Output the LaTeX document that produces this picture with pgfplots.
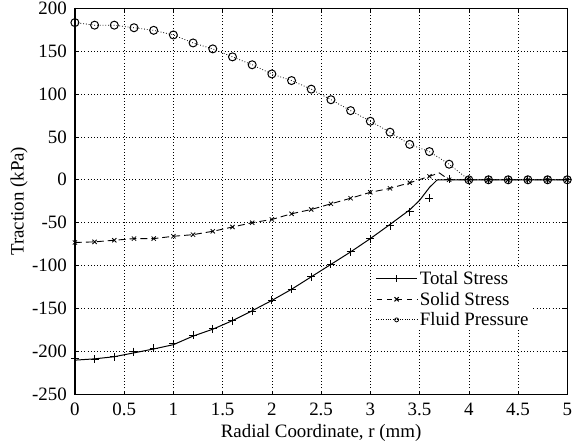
\documentclass[border=0pt]{standalone}
\usepackage{fontspec}
\setmainfont{Liberation Serif}
\usepackage{pgfplots}
\pgfplotsset{compat=1.18}
\begin{document}
\begin{tikzpicture}
\begin{axis}[
  scale only axis, width=493bp, height=387bp,
  xmin=0, xmax=5, ymin=-250, ymax=200,
  xtick={0,0.5,...,5}, xticklabels={0,0.5,1,1.5,2,2.5,3,3.5,4,4.5,5},
  ytick={-250,-200,...,200}, yticklabels={-250,-200,-150,-100,-50,0,50,100,150,200},
  grid=major, grid style={black, dash pattern=on 0.8pt off 2.4pt, line width=0.6pt},
  tick style={black, line width=0.6pt}, major tick length=4bp, tick align=inside,
  axis line style={line width=0.8pt},
  ticklabel style={font=\fontsize{19}{20}\selectfont, inner sep=0pt},
  xticklabel style={anchor=base, yshift=-21bp},
  yticklabel style={anchor=east, xshift=-8bp},
  xlabel={Radial Coordinate, r (mm)}, ylabel={Traction (kPa)},
  every axis x label/.style={at={([yshift=-43bp]rel axis cs:0.5,0)}, anchor=base,
    font=\fontsize{19}{20}\selectfont, inner sep=0pt},
  every axis y label/.style={at={([xshift=-47bp]rel axis cs:0,0.5)}, anchor=south, rotate=90,
    font=\fontsize{19}{20}\selectfont, inner sep=0pt},
  legend style={draw=none, fill=white, at={(axis cs:3.04,-103)}, anchor=north west,
    font=\fontsize{19}{20}\selectfont, inner sep=1pt, row sep=2pt},
  legend cell align=left,
  legend image code/.code={\draw[#1, mark repeat=2, mark phase=2] plot coordinates {(0cm,0cm) (0.73cm,0cm) (1.46cm,0cm)};},
  after end axis/.code={
    \draw[line width=2pt] (rel axis cs:0,1) -- (rel axis cs:0,0) -- (rel axis cs:1,0);
    \path ([xshift=-75bp,yshift=-53bp]rel axis cs:0,0) ([xshift=4bp,yshift=8bp]rel axis cs:1,1);
  },
]
% Total stress line
\addplot[black, line width=1pt, forget plot] coordinates {
(0,-210) (0.2,-208.5) (0.4,-206) (0.6,-201.5) (0.8,-197) (1.0,-192) (1.2,-182) (1.4,-174)
(1.6,-164) (1.8,-152.5) (2.0,-140.5) (2.2,-127.5) (2.4,-113) (2.6,-98.5) (2.8,-84) (3.0,-68.5)
(3.2,-52) (3.4,-35) (3.5,-24) (3.6,-9) (3.68,0) (3.8,0) (5,0)};
% Total stress markers
\addplot[black, only marks, mark=+, mark size=4bp, mark options={line width=1pt}, forget plot] coordinates {
(0,-208) (0.2,-209) (0.4,-206.3) (0.6,-200.1) (0.8,-196.3) (1.0,-190.9) (1.2,-180.8) (1.4,-173.6)
(1.6,-164) (1.8,-153.1) (2.0,-140.1) (2.2,-127.5) (2.4,-112.7) (2.6,-98.5) (2.8,-83.8) (3.0,-68.5)
(3.2,-53.8) (3.4,-37.5) (3.6,-21.3) (3.8,0.5) (4.0,0) (4.2,0) (4.4,0) (4.6,0) (4.8,0) (5.0,0)};
% Solid stress line
\addplot[black, line width=0.9pt, dash pattern=on 7pt off 4pt, forget plot] coordinates {
(0,-73) (0.2,-72.3) (0.4,-70.4) (0.6,-68.5) (0.8,-68.5) (1.0,-65.8) (1.2,-63.9) (1.4,-60)
(1.6,-55) (1.8,-50) (2.0,-46.2) (2.2,-39.6) (2.4,-34.6) (2.6,-28) (2.8,-21.5) (3.0,-14.6)
(3.2,-10) (3.4,-3.5) (3.6,4) (3.7,8) (3.8,0) (5,0)};
% Solid stress markers
\addplot[black, only marks, mark=x, mark size=3bp, mark options={line width=0.8pt}, forget plot] coordinates {
(0,-73) (0.2,-72.3) (0.4,-70.4) (0.6,-68.5) (0.8,-68.5) (1.0,-65.8) (1.2,-63.9) (1.4,-60)
(1.6,-55) (1.8,-50) (2.0,-46.2) (2.2,-39.6) (2.4,-34.6) (2.6,-28) (2.8,-21.5) (3.0,-14.6)
(3.2,-10) (3.4,-3.5) (3.6,4) (3.8,0) (4.0,0) (4.2,0) (4.4,0) (4.6,0) (4.8,0) (5.0,0)};
% Fluid pressure
\addplot[black, line width=0.8pt, dash pattern=on 0.8pt off 2pt, mark=o, mark size=4bp,
  mark options={solid, line width=1pt}, forget plot] coordinates {
(0,183) (0.2,180) (0.4,180) (0.6,177) (0.8,174) (1.0,168.6) (1.2,159.3) (1.4,152.4)
(1.6,143.1) (1.8,133.9) (2.0,123.2) (2.2,115.5) (2.4,105.5) (2.6,93.2) (2.8,80.5) (3.0,68.1)
(3.2,55.4) (3.4,41.2) (3.6,32.8) (3.8,18.1) (4.0,0) (4.2,0) (4.4,0) (4.6,0) (4.8,0) (5.0,0)};
\addlegendimage{black, line width=1pt, mark=+, mark size=3.5bp}
\addlegendentry{Total Stress}
\addlegendimage{black, line width=1pt, dash pattern=on 5pt off 5pt, dash phase=-1pt, mark=x, mark size=3bp, mark options={solid}}
\addlegendentry{Solid Stress}
\addlegendimage{black, line width=0.8pt, dash pattern=on 0.8pt off 1.6pt, mark=o, mark size=2bp, mark options={solid}}
\addlegendentry{Fluid Pressure}
\end{axis}
\end{tikzpicture}
\end{document}
